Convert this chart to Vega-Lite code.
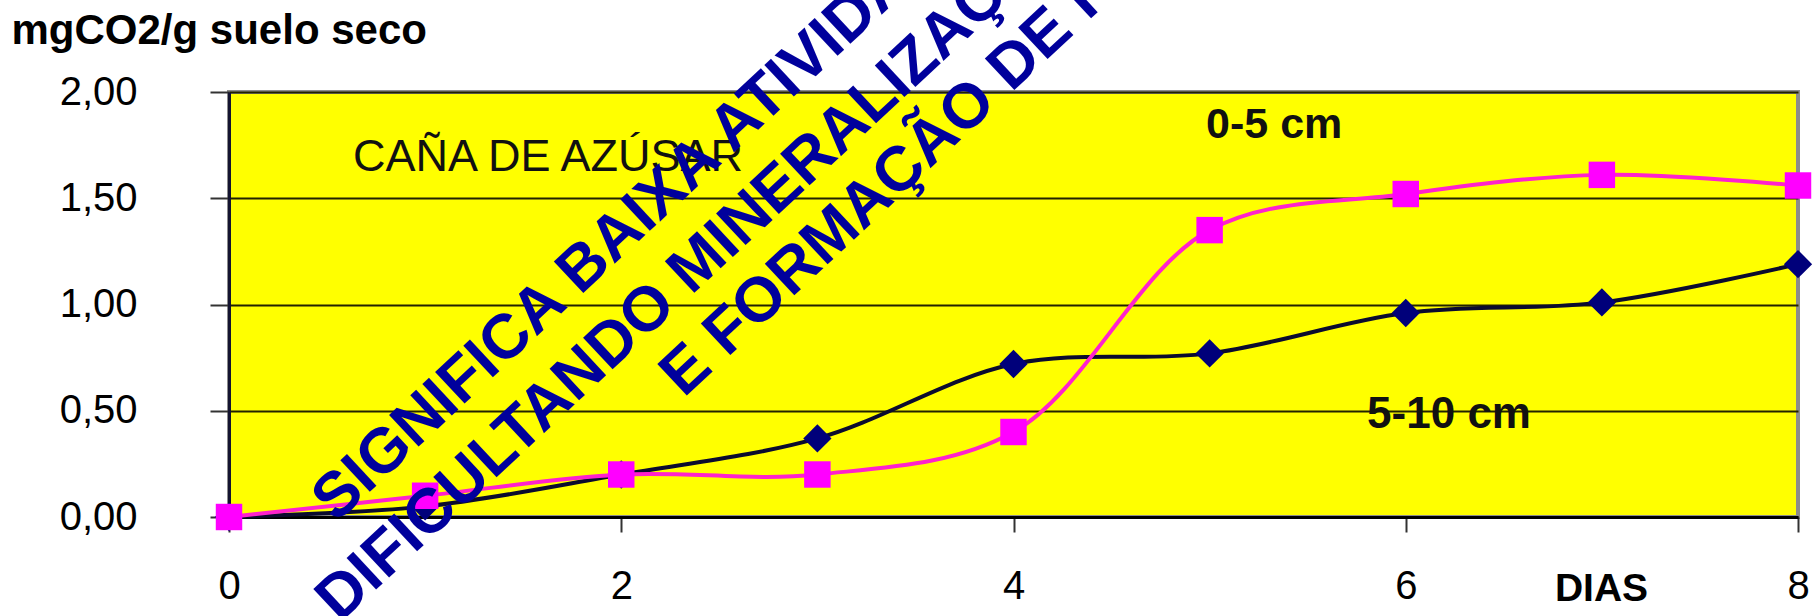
{
  "$schema": "https://vega.github.io/schema/vega-lite/v6.json",
  "autosize": {"type": "none"},
  "padding": {"left": 229, "top": 92, "right": 22, "bottom": 99},
  "width": 1569,
  "height": 425,
  "background": "#ffffff",
  "config": {
    "font": "Liberation Sans",
    "view": {"fill": "#ffff00", "stroke": "#8c8c8c", "strokeWidth": 4}
  },
  "datasets": {
    "co2": [
      {"dias": 0, "co2": 0.0, "capa": "5-10 cm"},
      {"dias": 1, "co2": 0.05, "capa": "5-10 cm"},
      {"dias": 2, "co2": 0.2, "capa": "5-10 cm"},
      {"dias": 3, "co2": 0.37, "capa": "5-10 cm"},
      {"dias": 4, "co2": 0.72, "capa": "5-10 cm"},
      {"dias": 5, "co2": 0.77, "capa": "5-10 cm"},
      {"dias": 6, "co2": 0.96, "capa": "5-10 cm"},
      {"dias": 7, "co2": 1.01, "capa": "5-10 cm"},
      {"dias": 8, "co2": 1.19, "capa": "5-10 cm"},
      {"dias": 0, "co2": 0.0, "capa": "0-5 cm"},
      {"dias": 1, "co2": 0.1, "capa": "0-5 cm"},
      {"dias": 2, "co2": 0.2, "capa": "0-5 cm"},
      {"dias": 3, "co2": 0.2, "capa": "0-5 cm"},
      {"dias": 4, "co2": 0.4, "capa": "0-5 cm"},
      {"dias": 5, "co2": 1.35, "capa": "0-5 cm"},
      {"dias": 6, "co2": 1.52, "capa": "0-5 cm"},
      {"dias": 7, "co2": 1.61, "capa": "0-5 cm"},
      {"dias": 8, "co2": 1.56, "capa": "0-5 cm"}
    ],
    "notas": [
      {"clave": "cultivo", "texto": "CAÑA DE AZÚSAR"},
      {"clave": "capa1", "texto": "0-5 cm"},
      {"clave": "capa2", "texto": "5-10 cm"},
      {"clave": "aviso1", "texto": "SIGNIFICA BAIXA ATIVIDADE"},
      {"clave": "aviso2", "texto": "DIFICULTANDO MINERALIZAÇÃO"},
      {"clave": "aviso3", "texto": "E FORMAÇÃO DE HÚMUS"}
    ]
  },
  "layer": [
    {
      "data": {"name": "co2"},
      "transform": [{"filter": "datum.capa === '5-10 cm'"}],
      "mark": {"type": "line", "interpolate": "catmull-rom", "color": "#0b0b2e", "strokeWidth": 4},
      "encoding": {
        "x": {
          "field": "dias",
          "type": "quantitative",
          "scale": {"domain": [0, 8], "nice": false, "zero": false},
          "axis": {
            "title": "DIAS",
            "values": [0, 2, 4, 6, 8],
            "format": "d",
            "grid": false,
            "domainColor": "#000000",
            "domainWidth": 3,
            "tickColor": "#333333",
            "tickWidth": 2,
            "tickSize": 15,
            "labelFontSize": 40,
            "labelColor": "#000000",
            "labelBaseline": "alphabetic",
            "labelPadding": 66,
            "labelFlush": false,
            "labelOverlap": false,
            "titleFontSize": 39,
            "titleFontWeight": "bold",
            "titleColor": "#000000",
            "titleAlign": "center",
            "titleBaseline": "alphabetic",
            "titleAnchor": null,
            "titleX": 1372,
            "titleY": 83
          }
        },
        "y": {
          "field": "co2",
          "type": "quantitative",
          "scale": {"domain": [0, 2], "nice": false, "zero": false},
          "axis": {
            "title": "mgCO2/g suelo seco",
            "values": [0, 0.5, 1, 1.5, 2],
            "labelExpr": "replace(format(datum.value, '.2f'), '.', ',')",
            "grid": true,
            "gridColor": "#222200",
            "gridWidth": 2,
            "domainColor": "#141430",
            "domainWidth": 3,
            "tickColor": "#333333",
            "tickWidth": 2,
            "tickSize": 19,
            "labelFontSize": 40,
            "labelColor": "#000000",
            "labelPadding": 73,
            "labelFlush": false,
            "labelOverlap": false,
            "titleFontSize": 42,
            "titleFontWeight": "bold",
            "titleColor": "#000000",
            "titleAngle": 0,
            "titleAlign": "left",
            "titleBaseline": "alphabetic",
            "titleAnchor": null,
            "titleX": -218,
            "titleY": -49
          }
        }
      }
    },
    {
      "data": {"name": "co2"},
      "transform": [{"filter": "datum.capa === '5-10 cm'"}],
      "mark": {"type": "point", "shape": "diamond", "filled": true, "color": "#00007a", "opacity": 1, "size": 800},
      "encoding": {
        "x": {"field": "dias", "type": "quantitative"},
        "y": {"field": "co2", "type": "quantitative"}
      }
    },
    {
      "data": {"name": "co2"},
      "transform": [{"filter": "datum.capa === '0-5 cm'"}],
      "mark": {"type": "line", "interpolate": "catmull-rom", "color": "#ff22cc", "strokeWidth": 4},
      "encoding": {
        "x": {"field": "dias", "type": "quantitative"},
        "y": {"field": "co2", "type": "quantitative"}
      }
    },
    {
      "data": {"name": "co2"},
      "transform": [{"filter": "datum.capa === '0-5 cm'"}],
      "mark": {"type": "point", "shape": "square", "filled": true, "color": "#ff00ff", "opacity": 1, "size": 700},
      "encoding": {
        "x": {"field": "dias", "type": "quantitative"},
        "y": {"field": "co2", "type": "quantitative"}
      }
    },
    {
      "data": {"name": "notas"},
      "transform": [{"filter": "datum.clave === 'cultivo'"}],
      "mark": {"type": "text", "fontSize": 45, "fill": "#111111", "align": "left", "baseline": "alphabetic"},
      "encoding": {
        "x": {"datum": 0.632, "type": "quantitative"},
        "y": {"datum": 1.628, "type": "quantitative"},
        "text": {"field": "texto", "type": "nominal"}
      }
    },
    {
      "data": {"name": "notas"},
      "transform": [{"filter": "datum.clave === 'capa1'"}],
      "mark": {"type": "text", "fontSize": 43, "fontWeight": "bold", "fill": "#111111", "align": "left", "baseline": "alphabetic"},
      "encoding": {
        "x": {"datum": 4.982, "type": "quantitative"},
        "y": {"datum": 1.784, "type": "quantitative"},
        "text": {"field": "texto", "type": "nominal"}
      }
    },
    {
      "data": {"name": "notas"},
      "transform": [{"filter": "datum.clave === 'capa2'"}],
      "mark": {"type": "text", "fontSize": 44, "fontWeight": "bold", "fill": "#111111", "align": "left", "baseline": "alphabetic"},
      "encoding": {
        "x": {"datum": 5.803, "type": "quantitative"},
        "y": {"datum": 0.419, "type": "quantitative"},
        "text": {"field": "texto", "type": "nominal"}
      }
    },
    {
      "data": {"name": "notas"},
      "transform": [{"filter": "datum.clave === 'aviso1'"}],
      "mark": {"type": "text", "fontSize": 63, "fontWeight": "bold", "fill": "#00009c", "align": "left", "baseline": "middle", "angle": -43},
      "encoding": {
        "x": {"datum": 0.48, "type": "quantitative"},
        "y": {"datum": 0.035, "type": "quantitative"},
        "text": {"field": "texto", "type": "nominal"}
      }
    },
    {
      "data": {"name": "notas"},
      "transform": [{"filter": "datum.clave === 'aviso2'"}],
      "mark": {"type": "text", "fontSize": 63, "fontWeight": "bold", "fill": "#00009c", "align": "left", "baseline": "middle", "angle": -43},
      "encoding": {
        "x": {"datum": 0.499, "type": "quantitative"},
        "y": {"datum": -0.436, "type": "quantitative"},
        "text": {"field": "texto", "type": "nominal"}
      }
    },
    {
      "data": {"name": "notas"},
      "transform": [{"filter": "datum.clave === 'aviso3'"}],
      "mark": {"type": "text", "fontSize": 63, "fontWeight": "bold", "fill": "#00009c", "align": "left", "baseline": "middle", "angle": -43},
      "encoding": {
        "x": {"datum": 2.252, "type": "quantitative"},
        "y": {"datum": 0.623, "type": "quantitative"},
        "text": {"field": "texto", "type": "nominal"}
      }
    }
  ]
}
